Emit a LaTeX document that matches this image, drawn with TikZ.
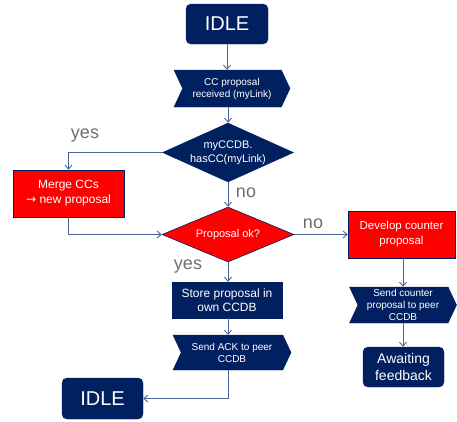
\documentclass[tikz,border=0pt]{standalone}
\usepackage{fontspec}
\setmainfont{Liberation Sans}
\newfontfamily\arrowfont{DejaVu Sans}
\usetikzlibrary{shapes.geometric,shapes.symbols,arrows.meta}

\definecolor{navy}{HTML}{002060}
\definecolor{wire}{HTML}{4A6696}
\definecolor{lblgray}{HTML}{6E6E6E}

\tikzset{
	idlebox/.style={rectangle, rounded corners=5pt, fill=navy, draw=navy, text=white, inner sep=0pt, align=center},
	navybox/.style={rectangle, fill=navy, draw=navy, text=white, inner sep=0pt, align=center},
	redbox/.style={rectangle, fill=red, draw=navy, line width=0.6pt, text=white, inner sep=0pt, align=center},
	sendbox/.style={signal, signal from=west, signal to=east, signal pointer angle=130, fill=navy, draw=navy, text=white, inner sep=0pt, align=center, font=\fontsize{10}{12}\selectfont},
	navyask/.style={diamond, aspect=2.2, fill=navy, draw=navy, text=white, inner sep=0pt, align=center, font=\fontsize{11}{14}\selectfont},
	redask/.style={diamond, aspect=2.4, fill=red, draw=navy, line width=0.6pt, text=white, inner sep=0pt, align=center, font=\fontsize{11}{14}\selectfont},
	answer/.style={text=lblgray, inner sep=0pt, font=\fontsize{18}{20}\selectfont},
	flow/.style={draw=wire, line width=0.9pt, -{Straight Barb[length=4pt,width=7pt]}}
}

\begin{document}
\begin{tikzpicture}[x=1pt, y=-1pt]
		\useasboundingbox (0, 0) rectangle (457, 421);
		% main column
		\node[idlebox, minimum width=82pt, minimum height=40pt, font=\fontsize{20}{24}\selectfont] (idletop) at (227, 24) {IDLE};
		\node[sendbox, minimum width=116pt, minimum height=37pt] (received) at (232, 88.5) {CC proposal\\received (myLink)};
		\node[navyask, minimum width=131pt, minimum height=59pt] (hascc) at (228, 152.5) {myCCDB.\\hasCC(myLink)};
		\node[redask, minimum width=132pt, minimum height=55pt] (propok) at (228, 234.5) {Proposal ok?};
		\node[navybox, minimum width=110pt, minimum height=36pt, font=\fontsize{12}{14}\selectfont] (store) at (227, 300) {Store proposal in\\own CCDB};
		\node[sendbox, minimum width=118pt, minimum height=35pt] (sendack) at (232, 352.5) {Send ACK to peer\\CCDB};
		\node[idlebox, minimum width=81pt, minimum height=41pt, font=\fontsize{20}{24}\selectfont] (idlebot) at (102.5, 398.5) {IDLE};
		% left branch
		\node[redbox, minimum width=111pt, minimum height=47pt, font=\fontsize{12}{15}\selectfont] (merge) at (68.5, 193.5) {Merge CCs\\{\arrowfont →} new proposal};
		% right branch
		\node[redbox, minimum width=107pt, minimum height=47pt, font=\fontsize{11.5}{15}\selectfont] (develop) at (401.5, 234.5) {Develop counter\\proposal};
		\node[sendbox, minimum width=107pt, minimum height=36pt] (sendcounter) at (403, 305) {Send counter\\proposal to peer\\CCDB};
		\node[idlebox, minimum width=81pt, minimum height=40pt, font=\fontsize{14}{17}\selectfont] (awaiting) at (403.5, 367) {Awaiting\\feedback};
		% answers
		\node[answer] (yesleft) at (85, 136) {yes};
		\node[answer] (nodown) at (246, 193) {no};
		\node[answer] (noright) at (313, 224) {no};
		\node[answer] (yesdown) at (188, 267) {yes};
		% connectors
		\draw[flow] (idletop) -- (idletop |- received.north);
		\draw[flow] (received.south -| hascc) -- (hascc.north);
		\draw[flow] (hascc.west) -| (merge.north);
		\draw[flow] (merge.south) |- (propok.west);
		\draw[flow] (hascc.south) -- (propok.north);
		\draw[flow] (propok.east) -- (develop.west);
		\draw[flow] (develop.south -| sendcounter) -- (sendcounter.north);
		\draw[flow] (sendcounter.south) -- (sendcounter.south |- awaiting.north);
		\draw[flow] (propok.south) -- (store.north -| propok);
		\draw[flow] (store.south -| propok) -- (sendack.north -| propok);
		\draw[flow] (sendack.south -| propok) |- (idlebot.east);
\end{tikzpicture}
\end{document}
